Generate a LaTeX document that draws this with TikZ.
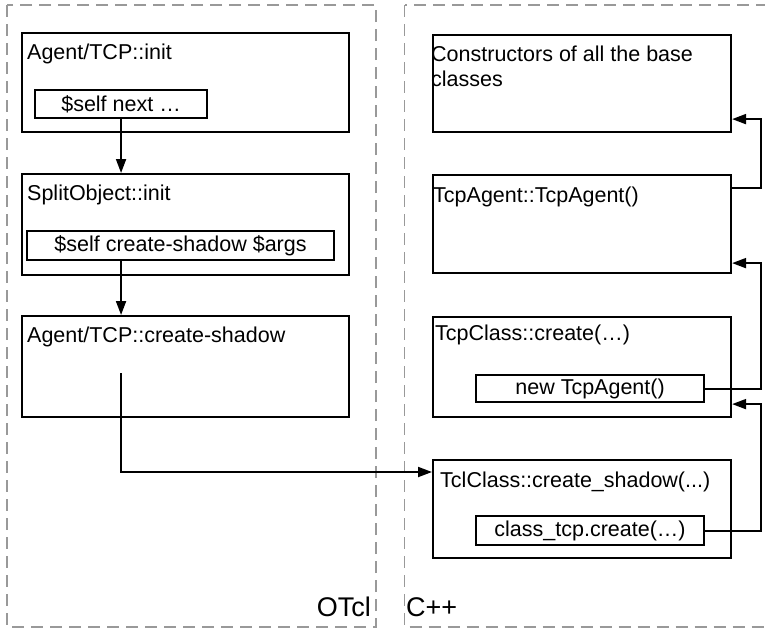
\documentclass[tikz,border=0pt]{standalone}
\usepackage{fontspec}
\setmainfont{Liberation Sans}
\usetikzlibrary{arrows.meta,calc}

\tikzset{
  every node/.style={font=\fontsize{21.5}{25}\selectfont},
  blockbox/.style={draw, line width=2.1pt, rectangle, inner sep=0pt, anchor=north west},
  callbox/.style={draw, line width=2.1pt, rectangle, inner sep=0pt, anchor=north west},
  title/.style={anchor=base west, inner sep=0pt},
  flow/.style={line width=1.9pt, -{Triangle[length=14pt,width=10pt]}},
  region/.style={draw=black!40, line width=1.8pt, dash pattern=on 12pt off 7pt},
  regionlabel/.style={inner sep=0pt, font=\fontsize{27}{30}\selectfont}
}

\begin{document}
\begin{tikzpicture}[x=1pt, y=-1pt]
\useasboundingbox (0,0) rectangle (765,629);

% language regions
\draw[region] (7,5) rectangle (376,627);
\draw[region] (404.5,5) rectangle (800,627);
\node[regionlabel, anchor=base east] (otcl) at (371,616) {OTcl};
\node[regionlabel, anchor=base west] (cpp) at (406,616) {C++};

% OTcl side
\node[blockbox, minimum width=327pt, minimum height=99pt] (L1) at (21,32) {};
\node[title] (L1t) at ($(L1.north west)+(6,27)$) {Agent/TCP::init};
\node[callbox, minimum width=172pt, minimum height=28pt] (L1i) at (34,89) {\$self next …};

\node[blockbox, minimum width=327pt, minimum height=101pt] (L2) at (21,173) {};
\node[title] (L2t) at ($(L2.north west)+(6,27)$) {SplitObject::init};
\node[callbox, minimum width=307pt, minimum height=29pt] (L2i) at (26,230) {\$self create-shadow \$args};

\node[blockbox, minimum width=327pt, minimum height=101pt] (L3) at (21,315) {};
\node[title] (L3t) at ($(L3.north west)+(6,27)$) {Agent/TCP::create-shadow};
\coordinate (L3c) at ($(L3.north west)+(100,58)$);

% C++ side
\node[blockbox, minimum width=298pt, minimum height=97pt] (R1) at (432,34) {};
\node[anchor=north west, inner sep=0pt, align=left] (R1t) at ($(R1.north west)+(-1,11.5)$)
  {Constructors of all the base\\classes};

\node[blockbox, minimum width=298pt, minimum height=98pt] (R2) at (432,174) {};
\node[title] (R2t) at ($(R2.north west)+(1,28)$) {TcpAgent::TcpAgent()};

\node[blockbox, minimum width=298pt, minimum height=100pt] (R3) at (432,316) {};
\node[title] (R3t) at ($(R3.north west)+(3,24)$) {TcpClass::create(…)};
\node[callbox, minimum width=228pt, minimum height=27pt] (R3i) at (475,374) {new TcpAgent()};

\node[blockbox, minimum width=298pt, minimum height=98pt] (R4) at (432,459) {};
\node[title] (R4t) at ($(R4.north west)+(8,28)$) {TclClass::create\_shadow(...)};
\node[callbox, minimum width=228pt, minimum height=29pt] (R4i) at (475,515) {class\_tcp.create(…)};

% call flow
\draw[flow] (L1i.south) -- (L2.north -| L1i.south);
\draw[flow] (L2i.south -| L1i.south) -- (L3.north -| L1i.south);
\draw[flow] (L3c) |- ($(R4.north west)+(0,13)$);
\draw[flow] (R4i.east) -- ++(56,0) |- ($(R3.south east)+(0,-14)$);
\draw[flow] (R3i.east) -- ++(56,0) |- ($(R2.south east)+(0,-11)$);
\draw[flow] ($(R2.north east)+(0,14)$) -- ++(29,0) |- ($(R1.south east)+(0,-14)$);
\end{tikzpicture}
\end{document}
